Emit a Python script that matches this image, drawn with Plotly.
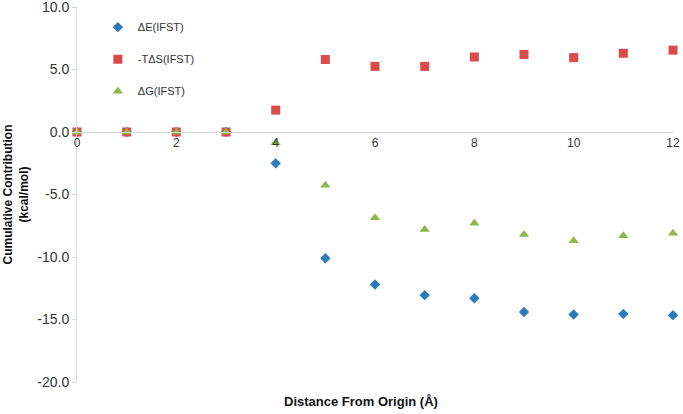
"""Cumulative contribution vs distance from origin"""

import plotly.graph_objects as go

# distances (Å)
distance = [0, 1, 2, 3, 4, 5, 6, 7, 8, 9, 10, 11, 12]

# cumulative contributions (kcal/mol)
delta_e = [0.0, 0.0, 0.0, 0.0, -2.5, -10.1, -12.2, -13.05, -13.3, -14.4, -14.6, -14.55, -14.65]
minus_t_delta_s = [0.0, 0.0, 0.0, 0.0, 1.75, 5.8, 5.25, 5.25, 6.0, 6.2, 5.95, 6.3, 6.55]
delta_g = [0.0, 0.0, 0.0, 0.0, -0.85, -4.25, -6.85, -7.8, -7.3, -8.2, -8.7, -8.3, -8.1]

y_ticks = [-20, -15, -10, -5, 0, 5, 10]
y_tick_labels = ["-20.0", "-15.0", "-10.0", "-5.0", "0.0", "5.0", "10.0"]
x_ticks = [0, 2, 4, 6, 8, 10, 12]

BLUE = "#2b7bba"
RED = "#dc4a4a"
GREEN = "#8db84a"
FONT = "Liberation Sans, Arial"

fig = go.Figure()

series = [
    ("ΔE(IFST)", delta_e, "diamond", BLUE, 8),
    ("-TΔS(IFST)", minus_t_delta_s, "square", RED, 9),
    ("ΔG(IFST)", delta_g, "triangle-up", GREEN, 9),
]

for i, (name, vals, symbol, color, size) in enumerate(series):
    fig.add_trace(
        go.Scatter(
            x=distance,
            y=vals,
            name=name,
            mode="markers",
            legendgroup=str(i),
            cliponaxis=False,
            marker=dict(symbol=symbol, color=color, size=size, line=dict(width=0)),
        )
    )

# x axis sits on y = 0, like the Excel original
fig.update_xaxes(
    range=[0, 12],
    tickvals=x_ticks,
    anchor="free",
    position=2 / 3,
    automargin=False,
    showline=True,
    linecolor="#d9d9d9",
    linewidth=1,
    showgrid=False,
    zeroline=False,
    ticks="",
    tickfont=dict(family=FONT, size=12, color="#333333"),
)
fig.update_yaxes(
    range=[-20, 10],
    tickvals=y_ticks,
    ticktext=y_tick_labels,
    automargin=False,
    ticklabeloverflow="allow",
    showline=True,
    linecolor="#d9d9d9",
    linewidth=1,
    showgrid=False,
    zeroline=False,
    ticks="outside",
    ticklen=4,
    tickcolor="#d9d9d9",
    tickfont=dict(family=FONT, size=14, color="#333333"),
    title=dict(
        text="<b>Cumulative Contribution<br>(kcal/mol)</b>",
        font=dict(family=FONT, size=12, color="#111111"),
        standoff=6,
    ),
)

fig.add_annotation(
    text="<b>Distance From Origin (Å)</b>",
    xref="paper",
    yref="paper",
    x=0.477,
    y=-0.052,
    yanchor="middle",
    showarrow=False,
    font=dict(family=FONT, size=13, color="#111111"),
)

fig.update_layout(
    width=683,
    height=414,
    margin=dict(l=77, r=10, t=7, b=32),
    plot_bgcolor="white",
    paper_bgcolor="white",
    showlegend=True,
    legend=dict(
        x=0.035,
        y=0.985,
        xanchor="left",
        yanchor="top",
        bgcolor="rgba(0,0,0,0)",
        tracegroupgap=13,
        font=dict(family=FONT, size=11, color="#333333"),
    ),
)

# the page body has a default 8px margin; drop it so the figure sits at 0,0
fig.write_html(
    "out.html",
    config={"displayModeBar": False},
    post_script="document.body.style.margin='0';",
)
